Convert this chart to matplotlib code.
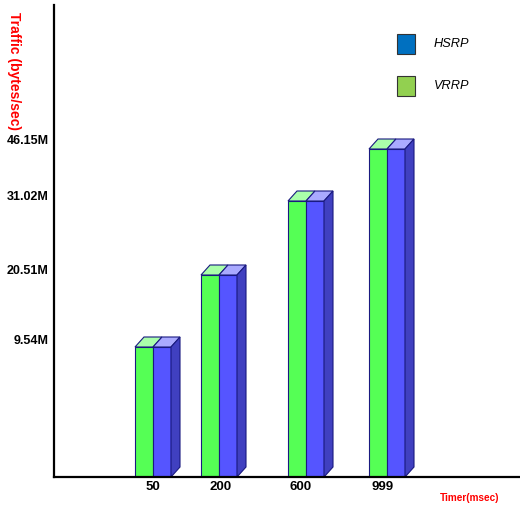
#!/usr/bin/env python3
"""
Traffic vs timer bar chart (HSRP / VRRP) with fake-3D bars
"""

import matplotlib
matplotlib.use('Agg')
import matplotlib.pyplot as plt
from matplotlib.patches import Polygon, Rectangle

# data (heights in chart units)
timers = ['50', '200', '600', '999']
group_pos = [99, 165, 252, 333]
label_pos = [99, 167, 247, 329]
vrrp_height = [130, 202, 276, 328]
hsrp_height = [130, 202, 276, 328]
tick_pos = [137, 207, 281, 337]
tick_labels = ['9.54M', '20.51M', '31.02M', '46.15M']

W, H = 520, 505
BAR_W = 18
DX, DY = 9, 10
EDGE = '#1a1a80'

plt.rcParams['font.family'] = ['Liberation Sans', 'DejaVu Sans']

fig = plt.figure(figsize=(W / 100, H / 100), dpi=100)
ax = fig.add_axes([54 / W, 28 / H, 466 / W, 472 / H])
ax.set_xlim(0, 466)
ax.set_ylim(0, 472)

def draw_bar(x0, h, front, top, side=None):
    ax.bar(x0, h, width=BAR_W, align='edge', color=front, edgecolor=EDGE,
           linewidth=0.8, zorder=3)
    ax.add_patch(Polygon([(x0, h), (x0 + DX, h + DY), (x0 + BAR_W + DX, h + DY),
                          (x0 + BAR_W, h)], closed=True, facecolor=top,
                         edgecolor=EDGE, linewidth=0.8, zorder=3))
    if side is not None:
        xr = x0 + BAR_W
        ax.add_patch(Polygon([(xr, 0), (xr + DX, DY), (xr + DX, h + DY), (xr, h)],
                             closed=True, facecolor=side, edgecolor=EDGE,
                             linewidth=0.8, zorder=3))

for c, hv, hh in zip(group_pos, vrrp_height, hsrp_height):
    draw_bar(c - BAR_W, hv, '#55ff55', '#aaffaa')
    draw_bar(c, hh, '#5555ff', '#aaaaff', '#4040c0')

for s in ['top', 'right']:
    ax.spines[s].set_visible(False)
ax.spines['left'].set_linewidth(1.6)
ax.spines['bottom'].set_linewidth(1.6)
ax.spines['left'].set_zorder(4)
ax.spines['bottom'].set_zorder(4)

ax.set_xticks(label_pos)
ax.set_xticklabels(timers, fontsize=9.5, fontweight='bold')
ax.set_yticks(tick_pos)
ax.set_yticklabels(tick_labels, fontsize=9, fontweight='bold')
ax.tick_params(axis='both', length=0, pad=4)
ax.tick_params(axis='x', pad=3)

# axis titles
fig.text(14 / W, 1 - 71 / H, 'Traffic (bytes/sec)', color='red', fontsize=10,
         fontweight='bold', rotation=-90, ha='center', va='center')
fig.text(470 / W, 1 - 498 / H, 'Timer(msec)', color='red', fontsize=7.2,
         fontweight='bold', ha='center', va='center')

# legend
legend_items = [('HSRP', '#0070c0', 44), ('VRRP', '#92d050', 86)]
for name, col, yc in legend_items:
    fig.patches.append(Rectangle((397 / W, 1 - (yc + 10) / H), 18 / W, 20 / H,
                                 transform=fig.transFigure, facecolor=col,
                                 edgecolor='#333333', linewidth=0.8))
    fig.text(434 / W, 1 - yc / H, name, fontsize=9.2, fontstyle='italic',
             ha='left', va='center')

fig.savefig('out.png', dpi=100)
